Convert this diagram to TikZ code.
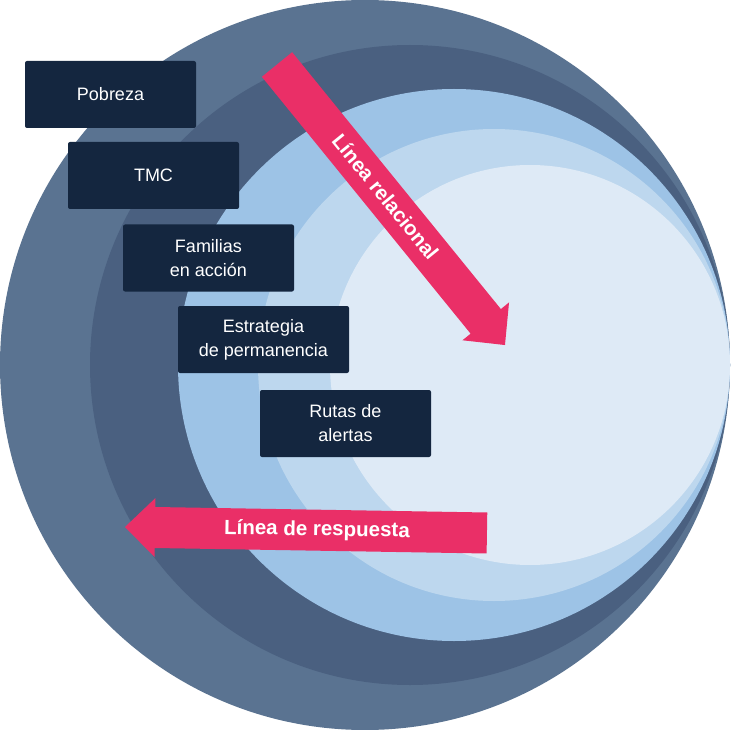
\documentclass[tikz,border=0pt]{standalone}
\usepackage{fontspec}
\setmainfont{Liberation Sans}
\begin{document}
\begin{tikzpicture}[x=1pt,y=-1pt,
  ring/.style={fill=#1,draw=none},
  levelbox/.style={fill=boxnavy,draw=none,rounded corners=2pt,
    minimum width=171pt,minimum height=67pt,inner sep=0pt,align=center,
    text=white,font=\fontsize{18}{24}\selectfont},
  bandarrow/.style={fill=arrowpink,draw=none},
  bandlabel/.style={text=white,anchor=base,inner sep=0pt,
    font=\fontsize{20.5}{24}\selectfont\bfseries}]
\definecolor{ringA}{HTML}{5A7391}
\definecolor{ringB}{HTML}{4A6080}
\definecolor{ringC}{HTML}{9DC3E6}
\definecolor{ringD}{HTML}{BDD7EE}
\definecolor{ringE}{HTML}{DEEAF6}
\definecolor{boxnavy}{HTML}{14263F}
\definecolor{arrowpink}{HTML}{EA2F67}

\useasboundingbox (0,0) rectangle (731,730);

% nested circles, all touching at the right edge
\fill[ring=ringA] (365,365) circle[radius=365];
\fill[ring=ringB] (410,365) circle[radius=320];
\fill[ring=ringC] (454,365) circle[radius=276];
\fill[ring=ringD] (494,365) circle[radius=236];
\fill[ring=ringE] (530,365) circle[radius=200];

% staircase of labels
\node[levelbox] (pobreza)    at (110.5,94.5)  {Pobreza};
\node[levelbox] (tmc)        at (153.5,175.5) {TMC};
\node[levelbox] (familias)   at (208.5,258)   {Familias\\en acción};
\node[levelbox] (estrategia) at (263.5,339.5) {Estrategia\\de permanencia};
\node[levelbox] (rutas)      at (345.5,423.5) {Rutas de\\alertas};

% diagonal arrow: local x runs along the shaft
\begin{scope}[shift={(277,64.5)},rotate=-50.9]
  \fill[bandarrow] (0,-19.5) -- (331,-19.5) -- (331,-30) -- (361.5,0)
    -- (331,30) -- (331,19.5) -- (0,19.5) -- cycle;
  \node[bandlabel,rotate=-50.9] (relacional) at (171,6.5) {Línea relacional};
\end{scope}

% horizontal arrow pointing left, local x runs from the tip
\begin{scope}[shift={(125,527)},rotate=-0.95]
  \fill[bandarrow] (0,0) -- (30,-29.5) -- (30,-20.5) -- (362,-20.5)
    -- (362,20.5) -- (30,20.5) -- (30,29.5) -- cycle;
  \node[bandlabel,rotate=-0.95] (respuesta) at (192,5.5) {Línea de respuesta};
\end{scope}
\end{tikzpicture}
\end{document}
